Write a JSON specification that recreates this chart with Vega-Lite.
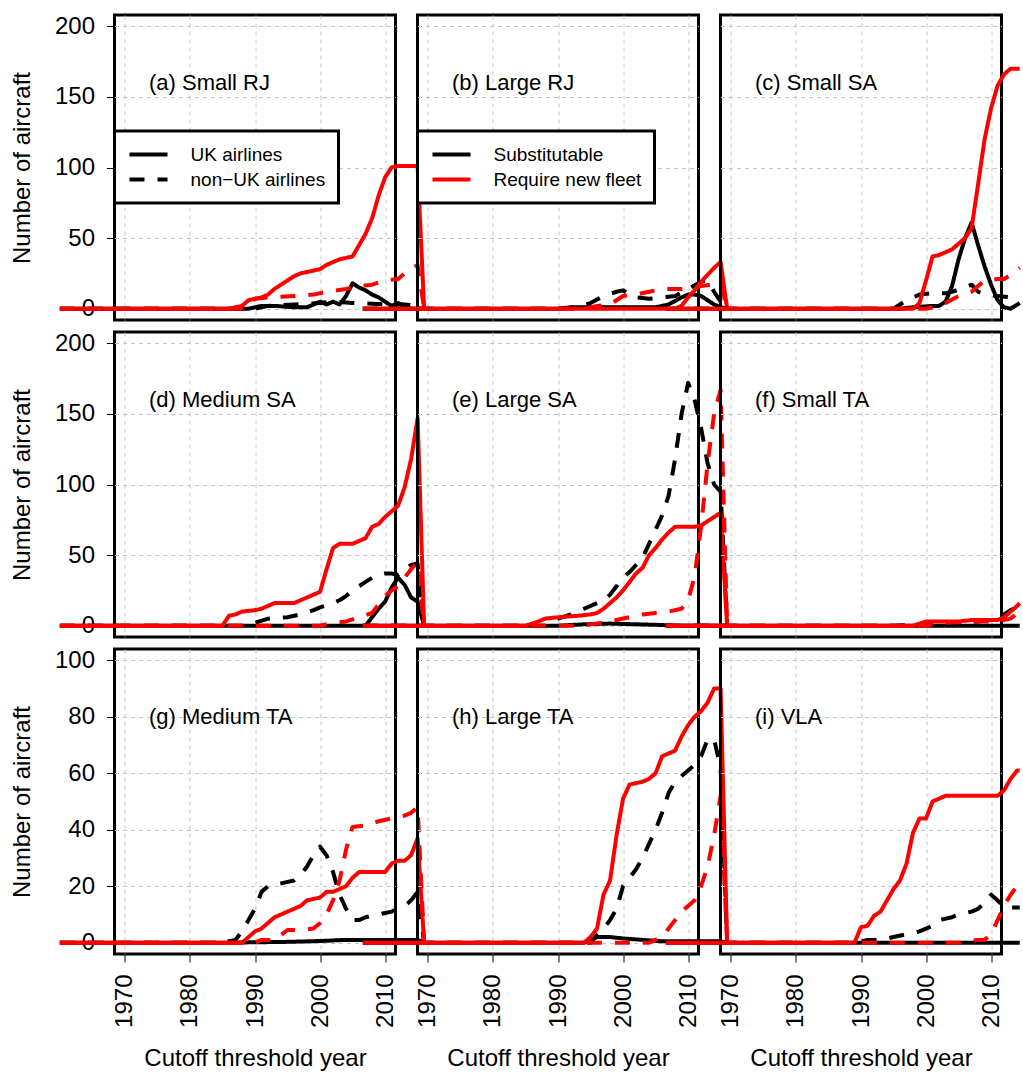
{
"$schema":"https://vega.github.io/schema/vega-lite/v6.json",
"background":"white",
"padding":{"left":8.5,"top":12,"right":0,"bottom":0},
"autosize":{"type":"pad"},
"bounds":"flush",
"columns":3,
"spacing":{"row":12,"column":22},
"data":{"values":[
{"p":"a","a":"U","t":"S","x":1960,"v":0},{"p":"a","a":"U","t":"S","x":1989,"v":0},{"p":"a","a":"U","t":"S","x":1991,"v":2},{"p":"a","a":"U","t":"S","x":1993,"v":2},{"p":"a","a":"U","t":"S","x":1996,"v":1},{"p":"a","a":"U","t":"S","x":1998,"v":1},{"p":"a","a":"U","t":"S","x":2000,"v":5},{"p":"a","a":"U","t":"S","x":2001,"v":3},{"p":"a","a":"U","t":"S","x":2002,"v":5},{"p":"a","a":"U","t":"S","x":2003,"v":3},{"p":"a","a":"U","t":"S","x":2004,"v":9},{"p":"a","a":"U","t":"S","x":2005,"v":18},{"p":"a","a":"U","t":"S","x":2006,"v":15},{"p":"a","a":"U","t":"S","x":2007,"v":13},{"p":"a","a":"U","t":"S","x":2008,"v":10},{"p":"a","a":"U","t":"S","x":2009,"v":8},{"p":"a","a":"U","t":"S","x":2010,"v":5},{"p":"a","a":"U","t":"S","x":2011,"v":2},{"p":"a","a":"U","t":"S","x":2012,"v":4},{"p":"a","a":"U","t":"S","x":2013,"v":2},{"p":"a","a":"U","t":"S","x":2014,"v":0},{"p":"a","a":"U","t":"S","x":2016,"v":0},
{"p":"a","a":"N","t":"S","x":1960,"v":0},{"p":"a","a":"N","t":"S","x":1990,"v":0},{"p":"a","a":"N","t":"S","x":1992,"v":2},{"p":"a","a":"N","t":"S","x":1996,"v":3},{"p":"a","a":"N","t":"S","x":2000,"v":4},{"p":"a","a":"N","t":"S","x":2002,"v":5},{"p":"a","a":"N","t":"S","x":2005,"v":4},{"p":"a","a":"N","t":"S","x":2008,"v":3.5},{"p":"a","a":"N","t":"S","x":2011,"v":3},{"p":"a","a":"N","t":"S","x":2013,"v":3},{"p":"a","a":"N","t":"S","x":2015,"v":2},{"p":"a","a":"N","t":"S","x":2016,"v":0},
{"p":"a","a":"U","t":"R","x":1960,"v":0},{"p":"a","a":"U","t":"R","x":1986,"v":0},{"p":"a","a":"U","t":"R","x":1988,"v":2},{"p":"a","a":"U","t":"R","x":1989,"v":6},{"p":"a","a":"U","t":"R","x":1990,"v":7},{"p":"a","a":"U","t":"R","x":1991,"v":8},{"p":"a","a":"U","t":"R","x":1992,"v":10},{"p":"a","a":"U","t":"R","x":1993,"v":14},{"p":"a","a":"U","t":"R","x":1994,"v":17},{"p":"a","a":"U","t":"R","x":1995,"v":20},{"p":"a","a":"U","t":"R","x":1996,"v":23},{"p":"a","a":"U","t":"R","x":1997,"v":25},{"p":"a","a":"U","t":"R","x":1998,"v":26},{"p":"a","a":"U","t":"R","x":1999,"v":27},{"p":"a","a":"U","t":"R","x":2000,"v":28},{"p":"a","a":"U","t":"R","x":2001,"v":31},{"p":"a","a":"U","t":"R","x":2002,"v":33},{"p":"a","a":"U","t":"R","x":2003,"v":35},{"p":"a","a":"U","t":"R","x":2004,"v":36},{"p":"a","a":"U","t":"R","x":2005,"v":37},{"p":"a","a":"U","t":"R","x":2006,"v":45},{"p":"a","a":"U","t":"R","x":2007,"v":53},{"p":"a","a":"U","t":"R","x":2008,"v":64},{"p":"a","a":"U","t":"R","x":2009,"v":80},{"p":"a","a":"U","t":"R","x":2010,"v":93},{"p":"a","a":"U","t":"R","x":2011,"v":100},{"p":"a","a":"U","t":"R","x":2012,"v":101},{"p":"a","a":"U","t":"R","x":2015,"v":101},{"p":"a","a":"U","t":"R","x":2016,"v":0},
{"p":"a","a":"N","t":"R","x":1960,"v":0},{"p":"a","a":"N","t":"R","x":1988,"v":0},{"p":"a","a":"N","t":"R","x":1990,"v":7},{"p":"a","a":"N","t":"R","x":1992,"v":8},{"p":"a","a":"N","t":"R","x":1996,"v":9},{"p":"a","a":"N","t":"R","x":1999,"v":10},{"p":"a","a":"N","t":"R","x":2001,"v":12},{"p":"a","a":"N","t":"R","x":2004,"v":14},{"p":"a","a":"N","t":"R","x":2006,"v":16},{"p":"a","a":"N","t":"R","x":2008,"v":17},{"p":"a","a":"N","t":"R","x":2010,"v":20},{"p":"a","a":"N","t":"R","x":2012,"v":21},{"p":"a","a":"N","t":"R","x":2013,"v":25},{"p":"a","a":"N","t":"R","x":2015,"v":31},{"p":"a","a":"N","t":"R","x":2016,"v":0},

{"p":"b","a":"U","t":"S","x":1960,"v":0},{"p":"b","a":"U","t":"S","x":1990,"v":0},{"p":"b","a":"U","t":"S","x":1992,"v":1},{"p":"b","a":"U","t":"S","x":2005,"v":1},{"p":"b","a":"U","t":"S","x":2007,"v":3},{"p":"b","a":"U","t":"S","x":2009,"v":8},{"p":"b","a":"U","t":"S","x":2010,"v":10},{"p":"b","a":"U","t":"S","x":2011,"v":10},{"p":"b","a":"U","t":"S","x":2012,"v":9},{"p":"b","a":"U","t":"S","x":2013,"v":6},{"p":"b","a":"U","t":"S","x":2014,"v":3},{"p":"b","a":"U","t":"S","x":2015,"v":1},{"p":"b","a":"U","t":"S","x":2016,"v":0},
{"p":"b","a":"N","t":"S","x":1960,"v":0},{"p":"b","a":"N","t":"S","x":1990,"v":0},{"p":"b","a":"N","t":"S","x":1993,"v":1},{"p":"b","a":"N","t":"S","x":1995,"v":4},{"p":"b","a":"N","t":"S","x":1997,"v":9},{"p":"b","a":"N","t":"S","x":1999,"v":12},{"p":"b","a":"N","t":"S","x":2000,"v":13},{"p":"b","a":"N","t":"S","x":2001,"v":10},{"p":"b","a":"N","t":"S","x":2002,"v":8},{"p":"b","a":"N","t":"S","x":2004,"v":7},{"p":"b","a":"N","t":"S","x":2006,"v":8},{"p":"b","a":"N","t":"S","x":2008,"v":9},{"p":"b","a":"N","t":"S","x":2010,"v":14},{"p":"b","a":"N","t":"S","x":2012,"v":19},{"p":"b","a":"N","t":"S","x":2013,"v":20},{"p":"b","a":"N","t":"S","x":2014,"v":12},{"p":"b","a":"N","t":"S","x":2015,"v":5},{"p":"b","a":"N","t":"S","x":2016,"v":0},
{"p":"b","a":"U","t":"R","x":1960,"v":0},{"p":"b","a":"U","t":"R","x":2008,"v":0},{"p":"b","a":"U","t":"R","x":2009,"v":2},{"p":"b","a":"U","t":"R","x":2010,"v":8},{"p":"b","a":"U","t":"R","x":2011,"v":13},{"p":"b","a":"U","t":"R","x":2012,"v":19},{"p":"b","a":"U","t":"R","x":2013,"v":24},{"p":"b","a":"U","t":"R","x":2014,"v":29},{"p":"b","a":"U","t":"R","x":2015,"v":33},{"p":"b","a":"U","t":"R","x":2016,"v":0},
{"p":"b","a":"N","t":"R","x":1960,"v":0},{"p":"b","a":"N","t":"R","x":1994,"v":0},{"p":"b","a":"N","t":"R","x":1996,"v":2},{"p":"b","a":"N","t":"R","x":1998,"v":3},{"p":"b","a":"N","t":"R","x":2000,"v":9},{"p":"b","a":"N","t":"R","x":2002,"v":10},{"p":"b","a":"N","t":"R","x":2004,"v":12},{"p":"b","a":"N","t":"R","x":2006,"v":14},{"p":"b","a":"N","t":"R","x":2010,"v":14},{"p":"b","a":"N","t":"R","x":2012,"v":16},{"p":"b","a":"N","t":"R","x":2015,"v":18},{"p":"b","a":"N","t":"R","x":2016,"v":0},

{"p":"c","a":"U","t":"S","x":1960,"v":0},{"p":"c","a":"U","t":"S","x":1996,"v":0},{"p":"c","a":"U","t":"S","x":1998,"v":1},{"p":"c","a":"U","t":"S","x":2001,"v":2},{"p":"c","a":"U","t":"S","x":2002,"v":2},{"p":"c","a":"U","t":"S","x":2003,"v":5},{"p":"c","a":"U","t":"S","x":2004,"v":16},{"p":"c","a":"U","t":"S","x":2005,"v":35},{"p":"c","a":"U","t":"S","x":2006,"v":50},{"p":"c","a":"U","t":"S","x":2007,"v":61},{"p":"c","a":"U","t":"S","x":2008,"v":45},{"p":"c","a":"U","t":"S","x":2009,"v":30},{"p":"c","a":"U","t":"S","x":2010,"v":17},{"p":"c","a":"U","t":"S","x":2011,"v":6},{"p":"c","a":"U","t":"S","x":2012,"v":1},{"p":"c","a":"U","t":"S","x":2013,"v":0},{"p":"c","a":"U","t":"S","x":2014.4,"v":4},
{"p":"c","a":"N","t":"S","x":1960,"v":0},{"p":"c","a":"N","t":"S","x":1995,"v":0},{"p":"c","a":"N","t":"S","x":1997,"v":6},{"p":"c","a":"N","t":"S","x":1999,"v":10},{"p":"c","a":"N","t":"S","x":2001,"v":11},{"p":"c","a":"N","t":"S","x":2003,"v":11},{"p":"c","a":"N","t":"S","x":2004,"v":12},{"p":"c","a":"N","t":"S","x":2006,"v":15},{"p":"c","a":"N","t":"S","x":2007,"v":17},{"p":"c","a":"N","t":"S","x":2008,"v":12},{"p":"c","a":"N","t":"S","x":2009,"v":10},{"p":"c","a":"N","t":"S","x":2011,"v":9},{"p":"c","a":"N","t":"S","x":2013,"v":8},{"p":"c","a":"N","t":"S","x":2014.4,"v":8},
{"p":"c","a":"U","t":"R","x":1960,"v":0},{"p":"c","a":"U","t":"R","x":1998,"v":0},{"p":"c","a":"U","t":"R","x":1999,"v":4},{"p":"c","a":"U","t":"R","x":2000,"v":20},{"p":"c","a":"U","t":"R","x":2001,"v":37},{"p":"c","a":"U","t":"R","x":2002,"v":38},{"p":"c","a":"U","t":"R","x":2003,"v":40},{"p":"c","a":"U","t":"R","x":2004,"v":42},{"p":"c","a":"U","t":"R","x":2005,"v":46},{"p":"c","a":"U","t":"R","x":2006,"v":50},{"p":"c","a":"U","t":"R","x":2007,"v":57},{"p":"c","a":"U","t":"R","x":2008,"v":88},{"p":"c","a":"U","t":"R","x":2009,"v":120},{"p":"c","a":"U","t":"R","x":2010,"v":142},{"p":"c","a":"U","t":"R","x":2011,"v":158},{"p":"c","a":"U","t":"R","x":2012,"v":166},{"p":"c","a":"U","t":"R","x":2013,"v":170},{"p":"c","a":"U","t":"R","x":2014.4,"v":170},
{"p":"c","a":"N","t":"R","x":1960,"v":0},{"p":"c","a":"N","t":"R","x":2000,"v":0},{"p":"c","a":"N","t":"R","x":2002,"v":2},{"p":"c","a":"N","t":"R","x":2003,"v":4},{"p":"c","a":"N","t":"R","x":2005,"v":9},{"p":"c","a":"N","t":"R","x":2007,"v":12},{"p":"c","a":"N","t":"R","x":2008,"v":16},{"p":"c","a":"N","t":"R","x":2009,"v":20},{"p":"c","a":"N","t":"R","x":2011,"v":21},{"p":"c","a":"N","t":"R","x":2012,"v":21},{"p":"c","a":"N","t":"R","x":2013,"v":24},{"p":"c","a":"N","t":"R","x":2014.4,"v":29},

{"p":"d","a":"U","t":"S","x":1960,"v":0},{"p":"d","a":"U","t":"S","x":2007,"v":0},{"p":"d","a":"U","t":"S","x":2008,"v":6},{"p":"d","a":"U","t":"S","x":2009,"v":12},{"p":"d","a":"U","t":"S","x":2010,"v":17},{"p":"d","a":"U","t":"S","x":2011,"v":27},{"p":"d","a":"U","t":"S","x":2012,"v":34},{"p":"d","a":"U","t":"S","x":2013,"v":29},{"p":"d","a":"U","t":"S","x":2014,"v":20},{"p":"d","a":"U","t":"S","x":2015,"v":17},{"p":"d","a":"U","t":"S","x":2016,"v":0},
{"p":"d","a":"N","t":"S","x":1960,"v":0},{"p":"d","a":"N","t":"S","x":1988,"v":0},{"p":"d","a":"N","t":"S","x":1990,"v":2},{"p":"d","a":"N","t":"S","x":1992,"v":5},{"p":"d","a":"N","t":"S","x":1995,"v":6},{"p":"d","a":"N","t":"S","x":1997,"v":8},{"p":"d","a":"N","t":"S","x":1999,"v":11},{"p":"d","a":"N","t":"S","x":2000,"v":13},{"p":"d","a":"N","t":"S","x":2002,"v":16},{"p":"d","a":"N","t":"S","x":2003,"v":18},{"p":"d","a":"N","t":"S","x":2004,"v":21},{"p":"d","a":"N","t":"S","x":2005,"v":25},{"p":"d","a":"N","t":"S","x":2006,"v":28},{"p":"d","a":"N","t":"S","x":2007,"v":31},{"p":"d","a":"N","t":"S","x":2008,"v":34},{"p":"d","a":"N","t":"S","x":2009,"v":36},{"p":"d","a":"N","t":"S","x":2010,"v":37},{"p":"d","a":"N","t":"S","x":2011,"v":37},{"p":"d","a":"N","t":"S","x":2012,"v":36},{"p":"d","a":"N","t":"S","x":2013,"v":40},{"p":"d","a":"N","t":"S","x":2014,"v":43},{"p":"d","a":"N","t":"S","x":2015,"v":44},{"p":"d","a":"N","t":"S","x":2016,"v":0},
{"p":"d","a":"U","t":"R","x":1960,"v":0},{"p":"d","a":"U","t":"R","x":1985,"v":0},{"p":"d","a":"U","t":"R","x":1986,"v":7},{"p":"d","a":"U","t":"R","x":1987,"v":8},{"p":"d","a":"U","t":"R","x":1988,"v":10},{"p":"d","a":"U","t":"R","x":1990,"v":11},{"p":"d","a":"U","t":"R","x":1991,"v":12},{"p":"d","a":"U","t":"R","x":1992,"v":14},{"p":"d","a":"U","t":"R","x":1993,"v":16},{"p":"d","a":"U","t":"R","x":1996,"v":16},{"p":"d","a":"U","t":"R","x":1997,"v":18},{"p":"d","a":"U","t":"R","x":1998,"v":20},{"p":"d","a":"U","t":"R","x":1999,"v":22},{"p":"d","a":"U","t":"R","x":2000,"v":24},{"p":"d","a":"U","t":"R","x":2001,"v":40},{"p":"d","a":"U","t":"R","x":2002,"v":55},{"p":"d","a":"U","t":"R","x":2003,"v":58},{"p":"d","a":"U","t":"R","x":2005,"v":58},{"p":"d","a":"U","t":"R","x":2006,"v":60},{"p":"d","a":"U","t":"R","x":2007,"v":62},{"p":"d","a":"U","t":"R","x":2008,"v":70},{"p":"d","a":"U","t":"R","x":2009,"v":72},{"p":"d","a":"U","t":"R","x":2010,"v":77},{"p":"d","a":"U","t":"R","x":2011,"v":81},{"p":"d","a":"U","t":"R","x":2012,"v":85},{"p":"d","a":"U","t":"R","x":2013,"v":98},{"p":"d","a":"U","t":"R","x":2014,"v":118},{"p":"d","a":"U","t":"R","x":2015,"v":147},{"p":"d","a":"U","t":"R","x":2016,"v":0},
{"p":"d","a":"N","t":"R","x":1960,"v":0},{"p":"d","a":"N","t":"R","x":2000,"v":0},{"p":"d","a":"N","t":"R","x":2002,"v":2},{"p":"d","a":"N","t":"R","x":2004,"v":3},{"p":"d","a":"N","t":"R","x":2006,"v":6},{"p":"d","a":"N","t":"R","x":2008,"v":9},{"p":"d","a":"N","t":"R","x":2009,"v":15},{"p":"d","a":"N","t":"R","x":2010,"v":21},{"p":"d","a":"N","t":"R","x":2011,"v":25},{"p":"d","a":"N","t":"R","x":2012,"v":28},{"p":"d","a":"N","t":"R","x":2013,"v":34},{"p":"d","a":"N","t":"R","x":2014,"v":40},{"p":"d","a":"N","t":"R","x":2015,"v":45},{"p":"d","a":"N","t":"R","x":2016,"v":0},

{"p":"e","a":"U","t":"S","x":1960,"v":0},{"p":"e","a":"U","t":"S","x":1990,"v":0},{"p":"e","a":"U","t":"S","x":1994,"v":1},{"p":"e","a":"U","t":"S","x":1998,"v":1.5},{"p":"e","a":"U","t":"S","x":2002,"v":1},{"p":"e","a":"U","t":"S","x":2006,"v":0.5},{"p":"e","a":"U","t":"S","x":2008,"v":0},{"p":"e","a":"U","t":"S","x":2016,"v":0},
{"p":"e","a":"N","t":"S","x":1960,"v":0},{"p":"e","a":"N","t":"S","x":1988,"v":0},{"p":"e","a":"N","t":"S","x":1990,"v":5},{"p":"e","a":"N","t":"S","x":1992,"v":8},{"p":"e","a":"N","t":"S","x":1994,"v":12},{"p":"e","a":"N","t":"S","x":1996,"v":16},{"p":"e","a":"N","t":"S","x":1997,"v":18},{"p":"e","a":"N","t":"S","x":1998,"v":22},{"p":"e","a":"N","t":"S","x":1999,"v":28},{"p":"e","a":"N","t":"S","x":2000,"v":34},{"p":"e","a":"N","t":"S","x":2001,"v":38},{"p":"e","a":"N","t":"S","x":2002,"v":43},{"p":"e","a":"N","t":"S","x":2003,"v":48},{"p":"e","a":"N","t":"S","x":2004,"v":58},{"p":"e","a":"N","t":"S","x":2005,"v":68},{"p":"e","a":"N","t":"S","x":2006,"v":78},{"p":"e","a":"N","t":"S","x":2007,"v":92},{"p":"e","a":"N","t":"S","x":2008,"v":118},{"p":"e","a":"N","t":"S","x":2009,"v":150},{"p":"e","a":"N","t":"S","x":2010,"v":172},{"p":"e","a":"N","t":"S","x":2011,"v":160},{"p":"e","a":"N","t":"S","x":2012,"v":140},{"p":"e","a":"N","t":"S","x":2013,"v":115},{"p":"e","a":"N","t":"S","x":2014,"v":100},{"p":"e","a":"N","t":"S","x":2015,"v":95},{"p":"e","a":"N","t":"S","x":2016,"v":0},
{"p":"e","a":"U","t":"R","x":1960,"v":0},{"p":"e","a":"U","t":"R","x":1985,"v":0},{"p":"e","a":"U","t":"R","x":1987,"v":3},{"p":"e","a":"U","t":"R","x":1988,"v":5},{"p":"e","a":"U","t":"R","x":1990,"v":6},{"p":"e","a":"U","t":"R","x":1993,"v":7},{"p":"e","a":"U","t":"R","x":1995,"v":8},{"p":"e","a":"U","t":"R","x":1996,"v":9},{"p":"e","a":"U","t":"R","x":1997,"v":12},{"p":"e","a":"U","t":"R","x":1998,"v":16},{"p":"e","a":"U","t":"R","x":1999,"v":20},{"p":"e","a":"U","t":"R","x":2000,"v":25},{"p":"e","a":"U","t":"R","x":2001,"v":31},{"p":"e","a":"U","t":"R","x":2002,"v":37},{"p":"e","a":"U","t":"R","x":2003,"v":41},{"p":"e","a":"U","t":"R","x":2004,"v":50},{"p":"e","a":"U","t":"R","x":2005,"v":55},{"p":"e","a":"U","t":"R","x":2006,"v":61},{"p":"e","a":"U","t":"R","x":2007,"v":66},{"p":"e","a":"U","t":"R","x":2008,"v":70},{"p":"e","a":"U","t":"R","x":2011,"v":70},{"p":"e","a":"U","t":"R","x":2012,"v":71},{"p":"e","a":"U","t":"R","x":2013,"v":74},{"p":"e","a":"U","t":"R","x":2014,"v":77},{"p":"e","a":"U","t":"R","x":2015,"v":80},{"p":"e","a":"U","t":"R","x":2016,"v":0},
{"p":"e","a":"N","t":"R","x":1960,"v":0},{"p":"e","a":"N","t":"R","x":1993,"v":0},{"p":"e","a":"N","t":"R","x":1995,"v":1},{"p":"e","a":"N","t":"R","x":1997,"v":2},{"p":"e","a":"N","t":"R","x":1999,"v":4},{"p":"e","a":"N","t":"R","x":2001,"v":6},{"p":"e","a":"N","t":"R","x":2003,"v":8},{"p":"e","a":"N","t":"R","x":2005,"v":9},{"p":"e","a":"N","t":"R","x":2007,"v":10},{"p":"e","a":"N","t":"R","x":2009,"v":12},{"p":"e","a":"N","t":"R","x":2010,"v":18},{"p":"e","a":"N","t":"R","x":2011,"v":35},{"p":"e","a":"N","t":"R","x":2012,"v":70},{"p":"e","a":"N","t":"R","x":2013,"v":115},{"p":"e","a":"N","t":"R","x":2014,"v":150},{"p":"e","a":"N","t":"R","x":2015,"v":167},{"p":"e","a":"N","t":"R","x":2016,"v":0},

{"p":"f","a":"U","t":"S","x":1960,"v":0},{"p":"f","a":"U","t":"S","x":2014.4,"v":0},
{"p":"f","a":"N","t":"S","x":1960,"v":0},{"p":"f","a":"N","t":"S","x":1995,"v":0},{"p":"f","a":"N","t":"S","x":2000,"v":1},{"p":"f","a":"N","t":"S","x":2005,"v":2},{"p":"f","a":"N","t":"S","x":2008,"v":3},{"p":"f","a":"N","t":"S","x":2010,"v":4},{"p":"f","a":"N","t":"S","x":2011,"v":5},{"p":"f","a":"N","t":"S","x":2012,"v":8},{"p":"f","a":"N","t":"S","x":2013,"v":11},{"p":"f","a":"N","t":"S","x":2014.4,"v":14},
{"p":"f","a":"U","t":"R","x":1960,"v":0},{"p":"f","a":"U","t":"R","x":1998,"v":0},{"p":"f","a":"U","t":"R","x":2000,"v":3},{"p":"f","a":"U","t":"R","x":2005,"v":3},{"p":"f","a":"U","t":"R","x":2007,"v":4},{"p":"f","a":"U","t":"R","x":2011,"v":4},{"p":"f","a":"U","t":"R","x":2012,"v":6},{"p":"f","a":"U","t":"R","x":2013,"v":10},{"p":"f","a":"U","t":"R","x":2014,"v":14},{"p":"f","a":"U","t":"R","x":2014.4,"v":16},
{"p":"f","a":"N","t":"R","x":1960,"v":0},{"p":"f","a":"N","t":"R","x":2000,"v":0},{"p":"f","a":"N","t":"R","x":2002,"v":2},{"p":"f","a":"N","t":"R","x":2008,"v":3},{"p":"f","a":"N","t":"R","x":2011,"v":3},{"p":"f","a":"N","t":"R","x":2013,"v":5},{"p":"f","a":"N","t":"R","x":2014.4,"v":10},

{"p":"g","a":"U","t":"S","x":1960,"v":0},{"p":"g","a":"U","t":"S","x":1985,"v":0},{"p":"g","a":"U","t":"S","x":1995,"v":0.3},{"p":"g","a":"U","t":"S","x":2000,"v":0.6},{"p":"g","a":"U","t":"S","x":2004,"v":1},{"p":"g","a":"U","t":"S","x":2015,"v":1},{"p":"g","a":"U","t":"S","x":2016,"v":0},
{"p":"g","a":"N","t":"S","x":1960,"v":0},{"p":"g","a":"N","t":"S","x":1985,"v":0},{"p":"g","a":"N","t":"S","x":1987,"v":1},{"p":"g","a":"N","t":"S","x":1988,"v":4},{"p":"g","a":"N","t":"S","x":1989,"v":8},{"p":"g","a":"N","t":"S","x":1990,"v":12},{"p":"g","a":"N","t":"S","x":1991,"v":18},{"p":"g","a":"N","t":"S","x":1992,"v":20},{"p":"g","a":"N","t":"S","x":1994,"v":21},{"p":"g","a":"N","t":"S","x":1996,"v":22},{"p":"g","a":"N","t":"S","x":1997,"v":24},{"p":"g","a":"N","t":"S","x":1998,"v":27},{"p":"g","a":"N","t":"S","x":1999,"v":31},{"p":"g","a":"N","t":"S","x":2000,"v":34},{"p":"g","a":"N","t":"S","x":2001,"v":31},{"p":"g","a":"N","t":"S","x":2002,"v":25},{"p":"g","a":"N","t":"S","x":2003,"v":17},{"p":"g","a":"N","t":"S","x":2004,"v":12},{"p":"g","a":"N","t":"S","x":2005,"v":8},{"p":"g","a":"N","t":"S","x":2006,"v":8},{"p":"g","a":"N","t":"S","x":2007,"v":9},{"p":"g","a":"N","t":"S","x":2009,"v":10},{"p":"g","a":"N","t":"S","x":2011,"v":11},{"p":"g","a":"N","t":"S","x":2012,"v":12},{"p":"g","a":"N","t":"S","x":2013,"v":13},{"p":"g","a":"N","t":"S","x":2014,"v":15},{"p":"g","a":"N","t":"S","x":2015,"v":18},{"p":"g","a":"N","t":"S","x":2016,"v":0},
{"p":"g","a":"U","t":"R","x":1960,"v":0},{"p":"g","a":"U","t":"R","x":1988,"v":0},{"p":"g","a":"U","t":"R","x":1989,"v":2},{"p":"g","a":"U","t":"R","x":1990,"v":4},{"p":"g","a":"U","t":"R","x":1991,"v":5},{"p":"g","a":"U","t":"R","x":1992,"v":7},{"p":"g","a":"U","t":"R","x":1993,"v":9},{"p":"g","a":"U","t":"R","x":1994,"v":10},{"p":"g","a":"U","t":"R","x":1995,"v":11},{"p":"g","a":"U","t":"R","x":1996,"v":12},{"p":"g","a":"U","t":"R","x":1997,"v":13},{"p":"g","a":"U","t":"R","x":1998,"v":15},{"p":"g","a":"U","t":"R","x":1999,"v":15.5},{"p":"g","a":"U","t":"R","x":2000,"v":16},{"p":"g","a":"U","t":"R","x":2001,"v":18},{"p":"g","a":"U","t":"R","x":2002,"v":18},{"p":"g","a":"U","t":"R","x":2003,"v":19},{"p":"g","a":"U","t":"R","x":2004,"v":20},{"p":"g","a":"U","t":"R","x":2005,"v":23},{"p":"g","a":"U","t":"R","x":2006,"v":25},{"p":"g","a":"U","t":"R","x":2010,"v":25},{"p":"g","a":"U","t":"R","x":2011,"v":28},{"p":"g","a":"U","t":"R","x":2012,"v":29},{"p":"g","a":"U","t":"R","x":2013,"v":29},{"p":"g","a":"U","t":"R","x":2014,"v":31},{"p":"g","a":"U","t":"R","x":2015,"v":37},{"p":"g","a":"U","t":"R","x":2016,"v":0},
{"p":"g","a":"N","t":"R","x":1960,"v":0},{"p":"g","a":"N","t":"R","x":1990,"v":0},{"p":"g","a":"N","t":"R","x":1991,"v":1},{"p":"g","a":"N","t":"R","x":1993,"v":1},{"p":"g","a":"N","t":"R","x":1995,"v":4.5},{"p":"g","a":"N","t":"R","x":1997,"v":4.5},{"p":"g","a":"N","t":"R","x":1999,"v":5},{"p":"g","a":"N","t":"R","x":2000,"v":7},{"p":"g","a":"N","t":"R","x":2001,"v":10},{"p":"g","a":"N","t":"R","x":2002,"v":15},{"p":"g","a":"N","t":"R","x":2003,"v":22},{"p":"g","a":"N","t":"R","x":2004,"v":33},{"p":"g","a":"N","t":"R","x":2005,"v":41},{"p":"g","a":"N","t":"R","x":2007,"v":41.5},{"p":"g","a":"N","t":"R","x":2009,"v":43},{"p":"g","a":"N","t":"R","x":2011,"v":44},{"p":"g","a":"N","t":"R","x":2013,"v":45},{"p":"g","a":"N","t":"R","x":2014,"v":46},{"p":"g","a":"N","t":"R","x":2015,"v":48},{"p":"g","a":"N","t":"R","x":2016,"v":0},

{"p":"h","a":"U","t":"S","x":1960,"v":0},{"p":"h","a":"U","t":"S","x":1994,"v":0},{"p":"h","a":"U","t":"S","x":1996,"v":2},{"p":"h","a":"U","t":"S","x":1998,"v":2},{"p":"h","a":"U","t":"S","x":2000,"v":1.5},{"p":"h","a":"U","t":"S","x":2003,"v":1},{"p":"h","a":"U","t":"S","x":2006,"v":0.5},{"p":"h","a":"U","t":"S","x":2015,"v":0.5},{"p":"h","a":"U","t":"S","x":2016,"v":0},
{"p":"h","a":"N","t":"S","x":1960,"v":0},{"p":"h","a":"N","t":"S","x":1995,"v":0},{"p":"h","a":"N","t":"S","x":1996,"v":3},{"p":"h","a":"N","t":"S","x":1997,"v":5},{"p":"h","a":"N","t":"S","x":1998,"v":8},{"p":"h","a":"N","t":"S","x":1999,"v":12},{"p":"h","a":"N","t":"S","x":2000,"v":20},{"p":"h","a":"N","t":"S","x":2001,"v":23},{"p":"h","a":"N","t":"S","x":2002,"v":26},{"p":"h","a":"N","t":"S","x":2003,"v":30},{"p":"h","a":"N","t":"S","x":2004,"v":35},{"p":"h","a":"N","t":"S","x":2005,"v":40},{"p":"h","a":"N","t":"S","x":2006,"v":46},{"p":"h","a":"N","t":"S","x":2007,"v":53},{"p":"h","a":"N","t":"S","x":2008,"v":57},{"p":"h","a":"N","t":"S","x":2009,"v":59},{"p":"h","a":"N","t":"S","x":2010,"v":61},{"p":"h","a":"N","t":"S","x":2011,"v":63},{"p":"h","a":"N","t":"S","x":2012,"v":66},{"p":"h","a":"N","t":"S","x":2013,"v":72},{"p":"h","a":"N","t":"S","x":2014,"v":72},{"p":"h","a":"N","t":"S","x":2015,"v":62},{"p":"h","a":"N","t":"S","x":2016,"v":0},
{"p":"h","a":"U","t":"R","x":1960,"v":0},{"p":"h","a":"U","t":"R","x":1994,"v":0},{"p":"h","a":"U","t":"R","x":1995,"v":2},{"p":"h","a":"U","t":"R","x":1996,"v":5},{"p":"h","a":"U","t":"R","x":1997,"v":17},{"p":"h","a":"U","t":"R","x":1998,"v":22},{"p":"h","a":"U","t":"R","x":1999,"v":38},{"p":"h","a":"U","t":"R","x":2000,"v":51},{"p":"h","a":"U","t":"R","x":2001,"v":56},{"p":"h","a":"U","t":"R","x":2003,"v":57},{"p":"h","a":"U","t":"R","x":2004,"v":58},{"p":"h","a":"U","t":"R","x":2005,"v":60},{"p":"h","a":"U","t":"R","x":2006,"v":66},{"p":"h","a":"U","t":"R","x":2007,"v":67},{"p":"h","a":"U","t":"R","x":2008,"v":68},{"p":"h","a":"U","t":"R","x":2009,"v":73},{"p":"h","a":"U","t":"R","x":2010,"v":77},{"p":"h","a":"U","t":"R","x":2011,"v":80},{"p":"h","a":"U","t":"R","x":2012,"v":82},{"p":"h","a":"U","t":"R","x":2013,"v":85},{"p":"h","a":"U","t":"R","x":2014,"v":90},{"p":"h","a":"U","t":"R","x":2015,"v":90},{"p":"h","a":"U","t":"R","x":2016,"v":0},
{"p":"h","a":"N","t":"R","x":1960,"v":0},{"p":"h","a":"N","t":"R","x":2004,"v":0},{"p":"h","a":"N","t":"R","x":2006,"v":2},{"p":"h","a":"N","t":"R","x":2007,"v":5},{"p":"h","a":"N","t":"R","x":2008,"v":8},{"p":"h","a":"N","t":"R","x":2009,"v":11},{"p":"h","a":"N","t":"R","x":2010,"v":13},{"p":"h","a":"N","t":"R","x":2011,"v":15},{"p":"h","a":"N","t":"R","x":2012,"v":20},{"p":"h","a":"N","t":"R","x":2013,"v":27},{"p":"h","a":"N","t":"R","x":2014,"v":38},{"p":"h","a":"N","t":"R","x":2015,"v":52},{"p":"h","a":"N","t":"R","x":2016,"v":0},

{"p":"i","a":"U","t":"S","x":1960,"v":0},{"p":"i","a":"U","t":"S","x":2014.4,"v":0},
{"p":"i","a":"N","t":"S","x":1960,"v":0},{"p":"i","a":"N","t":"S","x":1989,"v":0},{"p":"i","a":"N","t":"S","x":1991,"v":1},{"p":"i","a":"N","t":"S","x":1993,"v":1},{"p":"i","a":"N","t":"S","x":1995,"v":2},{"p":"i","a":"N","t":"S","x":1997,"v":3},{"p":"i","a":"N","t":"S","x":1999,"v":4},{"p":"i","a":"N","t":"S","x":2000,"v":5},{"p":"i","a":"N","t":"S","x":2001,"v":6},{"p":"i","a":"N","t":"S","x":2002,"v":8},{"p":"i","a":"N","t":"S","x":2004,"v":9},{"p":"i","a":"N","t":"S","x":2005,"v":10},{"p":"i","a":"N","t":"S","x":2007,"v":11},{"p":"i","a":"N","t":"S","x":2008,"v":12},{"p":"i","a":"N","t":"S","x":2009,"v":14},{"p":"i","a":"N","t":"S","x":2010,"v":17},{"p":"i","a":"N","t":"S","x":2011,"v":15},{"p":"i","a":"N","t":"S","x":2012,"v":12.5},{"p":"i","a":"N","t":"S","x":2014.4,"v":12.5},
{"p":"i","a":"U","t":"R","x":1960,"v":0},{"p":"i","a":"U","t":"R","x":1989,"v":0},{"p":"i","a":"U","t":"R","x":1990,"v":5.5},{"p":"i","a":"U","t":"R","x":1991,"v":6},{"p":"i","a":"U","t":"R","x":1992,"v":9.5},{"p":"i","a":"U","t":"R","x":1993,"v":11},{"p":"i","a":"U","t":"R","x":1994,"v":15},{"p":"i","a":"U","t":"R","x":1995,"v":19},{"p":"i","a":"U","t":"R","x":1996,"v":22},{"p":"i","a":"U","t":"R","x":1997,"v":28},{"p":"i","a":"U","t":"R","x":1998,"v":39},{"p":"i","a":"U","t":"R","x":1999,"v":44},{"p":"i","a":"U","t":"R","x":2000,"v":44},{"p":"i","a":"U","t":"R","x":2001,"v":50},{"p":"i","a":"U","t":"R","x":2002,"v":51},{"p":"i","a":"U","t":"R","x":2003,"v":52},{"p":"i","a":"U","t":"R","x":2011,"v":52},{"p":"i","a":"U","t":"R","x":2012,"v":54},{"p":"i","a":"U","t":"R","x":2013,"v":58},{"p":"i","a":"U","t":"R","x":2014,"v":61},{"p":"i","a":"U","t":"R","x":2014.4,"v":61},
{"p":"i","a":"N","t":"R","x":1960,"v":0},{"p":"i","a":"N","t":"R","x":2005,"v":0},{"p":"i","a":"N","t":"R","x":2008,"v":1},{"p":"i","a":"N","t":"R","x":2009,"v":1},{"p":"i","a":"N","t":"R","x":2010,"v":3},{"p":"i","a":"N","t":"R","x":2011,"v":8},{"p":"i","a":"N","t":"R","x":2012,"v":13},{"p":"i","a":"N","t":"R","x":2013,"v":17},{"p":"i","a":"N","t":"R","x":2014,"v":20},{"p":"i","a":"N","t":"R","x":2014.4,"v":21}
]},
"concat":[
{"width":281,"height":305,"transform":[{"filter":"datum.p == 'a'"}],"layer":[
 {"mark":{"type":"line","clip":false,"strokeWidth":4,"strokeJoin":"round"},"encoding":{
  "x":{"field":"x","type":"quantitative","scale":{"domain":[1968.4,2011.6],"nice":false,"zero":false},"axis":{"values":[1970,1980,1990,2000,2010],"labels":false,"ticks":false,"title":null}},
  "y":{"field":"v","type":"quantitative","scale":{"domain":[-8,208],"nice":false,"zero":false},"axis":{"values":[0,50,100,150,200],"title":"Number of aircraft","titlePadding":20}},
  "color":{"field":"t","type":"nominal","scale":{"domain":["S","R"],"range":["#000000","#FF0000"]},"legend":{"orient":"none","legendX":303,"legendY":116,"title":null,"labelExpr":"datum.label == 'S' ? 'Substitutable' : 'Require new fleet'","encode":{"legend":{"update":{"strokeWidth":{"value":3}}}}}},
  "strokeDash":{"field":"a","type":"nominal","scale":{"domain":["U","N"],"range":[[1,0],[15,13]]},"legend":{"orient":"none","legendX":0,"legendY":116,"title":null,"symbolStrokeColor":"#000000","labelExpr":"datum.label == 'U' ? 'UK airlines' : 'non−UK airlines'","encode":{"legend":{"update":{"strokeWidth":{"value":3}}}}}}}},
 {"data":{"values":[{"label":"(a) Small RJ"}]},"mark":{"type":"text","align":"left","baseline":"middle","fontSize":22,"color":"#000000"},"encoding":{"x":{"datum":1973.7},"y":{"datum":160},"text":{"field":"label"}}}
]},
{"width":281,"height":305,"transform":[{"filter":"datum.p == 'b'"}],"layer":[
 {"mark":{"type":"line","clip":false,"strokeWidth":4,"strokeJoin":"round"},"encoding":{
  "x":{"field":"x","type":"quantitative","scale":{"domain":[1968.4,2011.6],"nice":false,"zero":false},"axis":{"values":[1970,1980,1990,2000,2010],"labels":false,"ticks":false,"title":null}},
  "y":{"field":"v","type":"quantitative","scale":{"domain":[-8,208],"nice":false,"zero":false},"axis":{"values":[0,50,100,150,200],"labels":false,"ticks":false,"title":null}},
  "color":{"field":"t","type":"nominal","scale":{"domain":["S","R"],"range":["#000000","#FF0000"]}},
  "strokeDash":{"field":"a","type":"nominal","scale":{"domain":["U","N"],"range":[[1,0],[15,13]]}}}},
 {"data":{"values":[{"label":"(b) Large RJ"}]},"mark":{"type":"text","align":"left","baseline":"middle","fontSize":22,"color":"#000000"},"encoding":{"x":{"datum":1973.7},"y":{"datum":160},"text":{"field":"label"}}}
]},
{"width":281,"height":305,"transform":[{"filter":"datum.p == 'c'"}],"layer":[
 {"mark":{"type":"line","clip":false,"strokeWidth":4,"strokeJoin":"round"},"encoding":{
  "x":{"field":"x","type":"quantitative","scale":{"domain":[1968.4,2011.6],"nice":false,"zero":false},"axis":{"values":[1970,1980,1990,2000,2010],"labels":false,"ticks":false,"title":null}},
  "y":{"field":"v","type":"quantitative","scale":{"domain":[-8,208],"nice":false,"zero":false},"axis":{"values":[0,50,100,150,200],"labels":false,"ticks":false,"title":null}},
  "color":{"field":"t","type":"nominal","scale":{"domain":["S","R"],"range":["#000000","#FF0000"]}},
  "strokeDash":{"field":"a","type":"nominal","scale":{"domain":["U","N"],"range":[[1,0],[15,13]]}}}},
 {"data":{"values":[{"label":"(c) Small SA"}]},"mark":{"type":"text","align":"left","baseline":"middle","fontSize":22,"color":"#000000"},"encoding":{"x":{"datum":1973.7},"y":{"datum":160},"text":{"field":"label"}}}
]},
{"width":281,"height":305,"transform":[{"filter":"datum.p == 'd'"}],"layer":[
 {"mark":{"type":"line","clip":false,"strokeWidth":4,"strokeJoin":"round"},"encoding":{
  "x":{"field":"x","type":"quantitative","scale":{"domain":[1968.4,2011.6],"nice":false,"zero":false},"axis":{"values":[1970,1980,1990,2000,2010],"labels":false,"ticks":false,"title":null}},
  "y":{"field":"v","type":"quantitative","scale":{"domain":[-8,208],"nice":false,"zero":false},"axis":{"values":[0,50,100,150,200],"title":"Number of aircraft","titlePadding":20}},
  "color":{"field":"t","type":"nominal","scale":{"domain":["S","R"],"range":["#000000","#FF0000"]}},
  "strokeDash":{"field":"a","type":"nominal","scale":{"domain":["U","N"],"range":[[1,0],[15,13]]}}}},
 {"data":{"values":[{"label":"(d) Medium SA"}]},"mark":{"type":"text","align":"left","baseline":"middle","fontSize":22,"color":"#000000"},"encoding":{"x":{"datum":1973.7},"y":{"datum":160},"text":{"field":"label"}}}
]},
{"width":281,"height":305,"transform":[{"filter":"datum.p == 'e'"}],"layer":[
 {"mark":{"type":"line","clip":false,"strokeWidth":4,"strokeJoin":"round"},"encoding":{
  "x":{"field":"x","type":"quantitative","scale":{"domain":[1968.4,2011.6],"nice":false,"zero":false},"axis":{"values":[1970,1980,1990,2000,2010],"labels":false,"ticks":false,"title":null}},
  "y":{"field":"v","type":"quantitative","scale":{"domain":[-8,208],"nice":false,"zero":false},"axis":{"values":[0,50,100,150,200],"labels":false,"ticks":false,"title":null}},
  "color":{"field":"t","type":"nominal","scale":{"domain":["S","R"],"range":["#000000","#FF0000"]}},
  "strokeDash":{"field":"a","type":"nominal","scale":{"domain":["U","N"],"range":[[1,0],[15,13]]}}}},
 {"data":{"values":[{"label":"(e) Large SA"}]},"mark":{"type":"text","align":"left","baseline":"middle","fontSize":22,"color":"#000000"},"encoding":{"x":{"datum":1973.7},"y":{"datum":160},"text":{"field":"label"}}}
]},
{"width":281,"height":305,"transform":[{"filter":"datum.p == 'f'"}],"layer":[
 {"mark":{"type":"line","clip":false,"strokeWidth":4,"strokeJoin":"round"},"encoding":{
  "x":{"field":"x","type":"quantitative","scale":{"domain":[1968.4,2011.6],"nice":false,"zero":false},"axis":{"values":[1970,1980,1990,2000,2010],"labels":false,"ticks":false,"title":null}},
  "y":{"field":"v","type":"quantitative","scale":{"domain":[-8,208],"nice":false,"zero":false},"axis":{"values":[0,50,100,150,200],"labels":false,"ticks":false,"title":null}},
  "color":{"field":"t","type":"nominal","scale":{"domain":["S","R"],"range":["#000000","#FF0000"]}},
  "strokeDash":{"field":"a","type":"nominal","scale":{"domain":["U","N"],"range":[[1,0],[15,13]]}}}},
 {"data":{"values":[{"label":"(f) Small TA"}]},"mark":{"type":"text","align":"left","baseline":"middle","fontSize":22,"color":"#000000"},"encoding":{"x":{"datum":1973.7},"y":{"datum":160},"text":{"field":"label"}}}
]},
{"width":281,"height":305,"transform":[{"filter":"datum.p == 'g'"}],"layer":[
 {"mark":{"type":"line","clip":false,"strokeWidth":4,"strokeJoin":"round"},"encoding":{
  "x":{"field":"x","type":"quantitative","scale":{"domain":[1968.4,2011.6],"nice":false,"zero":false},"axis":{"values":[1970,1980,1990,2000,2010],"format":"d","labelAngle":270,"title":"Cutoff threshold year","titlePadding":19}},
  "y":{"field":"v","type":"quantitative","scale":{"domain":[-4,104],"nice":false,"zero":false},"axis":{"values":[0,20,40,60,80,100],"title":"Number of aircraft","titlePadding":20}},
  "color":{"field":"t","type":"nominal","scale":{"domain":["S","R"],"range":["#000000","#FF0000"]}},
  "strokeDash":{"field":"a","type":"nominal","scale":{"domain":["U","N"],"range":[[1,0],[15,13]]}}}},
 {"data":{"values":[{"label":"(g) Medium TA"}]},"mark":{"type":"text","align":"left","baseline":"middle","fontSize":22,"color":"#000000"},"encoding":{"x":{"datum":1973.7},"y":{"datum":80},"text":{"field":"label"}}}
]},
{"width":281,"height":305,"transform":[{"filter":"datum.p == 'h'"}],"layer":[
 {"mark":{"type":"line","clip":false,"strokeWidth":4,"strokeJoin":"round"},"encoding":{
  "x":{"field":"x","type":"quantitative","scale":{"domain":[1968.4,2011.6],"nice":false,"zero":false},"axis":{"values":[1970,1980,1990,2000,2010],"format":"d","labelAngle":270,"title":"Cutoff threshold year","titlePadding":19}},
  "y":{"field":"v","type":"quantitative","scale":{"domain":[-4,104],"nice":false,"zero":false},"axis":{"values":[0,20,40,60,80,100],"labels":false,"ticks":false,"title":null}},
  "color":{"field":"t","type":"nominal","scale":{"domain":["S","R"],"range":["#000000","#FF0000"]}},
  "strokeDash":{"field":"a","type":"nominal","scale":{"domain":["U","N"],"range":[[1,0],[15,13]]}}}},
 {"data":{"values":[{"label":"(h) Large TA"}]},"mark":{"type":"text","align":"left","baseline":"middle","fontSize":22,"color":"#000000"},"encoding":{"x":{"datum":1973.7},"y":{"datum":80},"text":{"field":"label"}}}
]},
{"width":281,"height":305,"transform":[{"filter":"datum.p == 'i'"}],"layer":[
 {"mark":{"type":"line","clip":false,"strokeWidth":4,"strokeJoin":"round"},"encoding":{
  "x":{"field":"x","type":"quantitative","scale":{"domain":[1968.4,2011.6],"nice":false,"zero":false},"axis":{"values":[1970,1980,1990,2000,2010],"format":"d","labelAngle":270,"title":"Cutoff threshold year","titlePadding":19}},
  "y":{"field":"v","type":"quantitative","scale":{"domain":[-4,104],"nice":false,"zero":false},"axis":{"values":[0,20,40,60,80,100],"labels":false,"ticks":false,"title":null}},
  "color":{"field":"t","type":"nominal","scale":{"domain":["S","R"],"range":["#000000","#FF0000"]}},
  "strokeDash":{"field":"a","type":"nominal","scale":{"domain":["U","N"],"range":[[1,0],[15,13]]}}}},
 {"data":{"values":[{"label":"(i) VLA"}]},"mark":{"type":"text","align":"left","baseline":"middle","fontSize":22,"color":"#000000"},"encoding":{"x":{"datum":1973.7},"y":{"datum":80},"text":{"field":"label"}}}
]}
],
"config":{
 "font":"Liberation Sans",
 "view":{"stroke":"#000000","strokeWidth":3},
 "text":{"font":"Liberation Sans"},
 "axis":{"grid":true,"gridColor":"#C4C4C4","gridDash":[4,4],"gridWidth":1,"domain":false,"tickColor":"#000000","tickSize":8,"tickWidth":1,"labelFont":"Liberation Sans","labelFontSize":24,"labelColor":"#000000","labelPadding":12,"titleFont":"Liberation Sans","titleFontSize":24,"titleFontWeight":"normal","titleColor":"#000000"},
 "legend":{"symbolType":"stroke","symbolSize":1444,"symbolStrokeWidth":4,"clipHeight":21,"labelFont":"Liberation Sans","labelFontSize":19,"labelColor":"#000000","labelOffset":21,"padding":13,"rowPadding":4,"strokeColor":"#000000","strokeWidth":3,"fillColor":"#FFFFFF","labelLimit":300}
}
}
